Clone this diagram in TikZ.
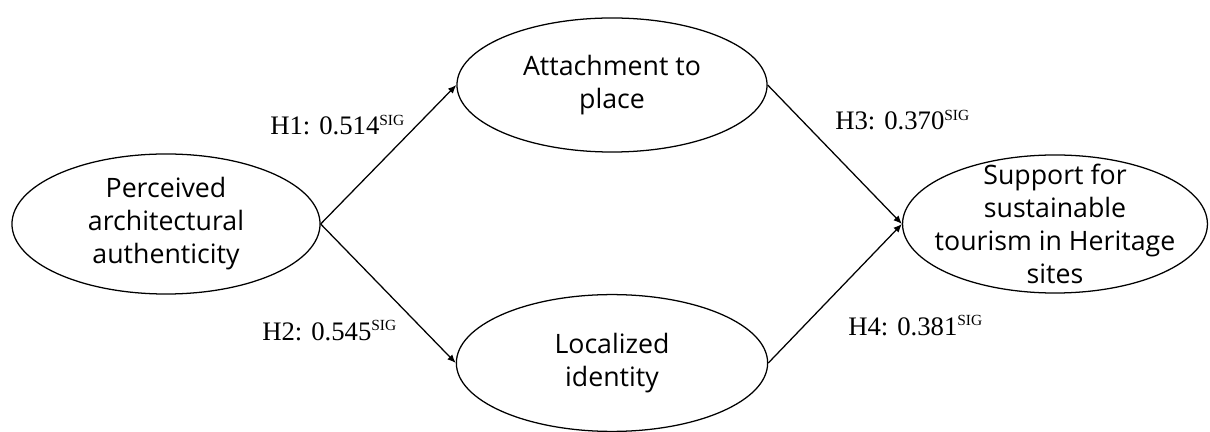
\documentclass[tikz,border=0pt]{standalone}
\usepackage{fontspec}
\setmainfont{Liberation Serif}
\setsansfont{Open Sans}
\usetikzlibrary{shapes.geometric,arrows.meta}

\newcommand{\sigmark}{\raisebox{0.36em}{\fontsize{11}{12}\selectfont SIG}}

\begin{document}
\begin{tikzpicture}[x=0.025cm,y=-0.025cm,
    construct/.style={draw, ellipse, line width=0.9pt, inner sep=0pt},
    inner/.style={align=center, font=\sffamily\fontsize{19}{23.5}\selectfont},
    path/.style={line width=0.9pt, -{Latex[length=6pt,width=5pt]}},
    coef/.style={anchor=base west, inner sep=0pt, font=\fontsize{19}{20}\selectfont}]
    \useasboundingbox (0,0) rectangle (1210,432);
    \node[construct, minimum width=7.7cm, minimum height=3.5cm,
      label={[inner]center:Perceived\\architectural\\authenticity}] (pa) at (166,224) {};
    \node[construct, minimum width=7.75cm, minimum height=3.35cm,
      label={[inner]center:Attachment to\\place}] (ap) at (612,85) {};
    \node[construct, minimum width=7.78cm, minimum height=3.42cm,
      label={[inner]center:Localized\\identity}] (li) at (612,363) {};
    \node[construct, minimum width=7.62cm, minimum height=3.45cm,
      label={[inner]center:Support for\\sustainable\\tourism in Heritage\\sites}] (st) at (1055,224) {};
    \foreach \from/\to in {pa/ap, pa/li, ap/st, li/st}{
      \draw[path] (\from.east) -- (\to.west);
    }
    \node[coef] (h1) at (270,135) {H1: 0.514\sigmark};
    \node[coef] (h2) at (262,340) {H2: 0.545\sigmark};
    \node[coef] (h3) at (835,130) {H3: 0.370\sigmark};
    \node[coef] (h4) at (848,335) {H4: 0.381\sigmark};
  \end{tikzpicture}
\end{document}
